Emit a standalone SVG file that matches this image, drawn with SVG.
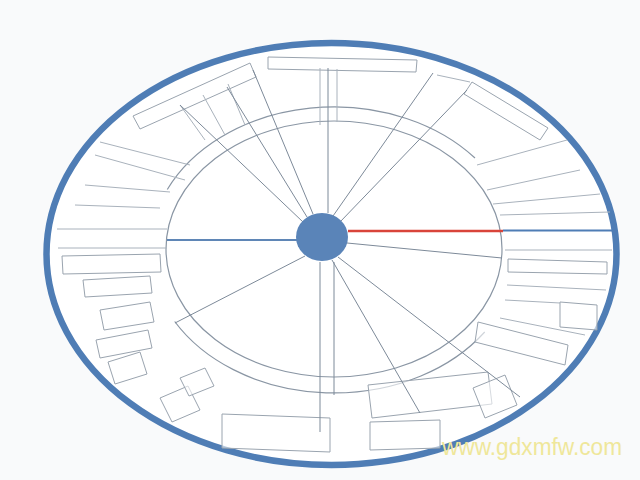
<svg xmlns="http://www.w3.org/2000/svg" width="640" height="480" viewBox="0 0 640 480">
  <defs>
    <style>
      .spoke { stroke: #7d8a99; stroke-width: 1; fill: none; }
      .ring { fill: none; stroke: #8a96a4; stroke-width: 1.2; }
      .box { fill: #ffffff; fill-opacity: 0.6; stroke: #9aa4af; stroke-width: 1; }
      .rule { stroke: #a9b2bc; stroke-width: 1; fill: none; }
      .wm { font-family: "Liberation Sans", Arial, sans-serif; font-size: 23px; fill: #efe79a; }
    </style>
  </defs>
  <rect x="0" y="0" width="640" height="480" fill="#f9fafb"/>

  <g id="outer-ring">
    <ellipse cx="331.5" cy="254" rx="285" ry="211" fill="#ffffff" stroke="#4f7db5" stroke-width="6.5"/>
  </g>

  <g id="inner-ring">
    <ellipse class="ring" cx="334" cy="249" rx="168" ry="128"/>
    <path class="ring" d="M167.3 189.5 A184 143 0 0 1 475 158"/>
    <path class="ring" d="M484.7 332 A184 143 0 0 1 174.7 321.5"/>
  </g>

  <g id="boxes">
    <!-- top -->
    <path class="box" d="M268 57 L417 60 L416 72 L268 69 Z"/>
    <line class="rule" x1="320" y1="68" x2="320" y2="125"/>
    <line class="rule" x1="337" y1="69" x2="337" y2="122"/>
    <!-- upper left -->
    <path class="box" d="M133 116 L250 63 L256 77 L140 129 Z"/>
    <line class="rule" x1="180" y1="105" x2="205" y2="140"/>
    <line class="rule" x1="203" y1="95" x2="225" y2="135"/>
    <line class="rule" x1="228" y1="84" x2="245" y2="125"/>
    <line class="rule" x1="100" y1="142" x2="190" y2="165"/>
    <line class="rule" x1="95" y1="155" x2="185" y2="180"/>
    <line class="rule" x1="85" y1="185" x2="170" y2="192"/>
    <line class="rule" x1="75" y1="205" x2="160" y2="208"/>
    <line class="rule" x1="57" y1="229" x2="167" y2="229"/>
    <line class="rule" x1="58" y1="248" x2="167" y2="248"/>
    <!-- left lower -->
    <path class="box" d="M62 256 L160 254 L161 272 L63 274 Z"/>
    <path class="box" d="M83 280 L150 276 L152 293 L85 297 Z"/>
    <path class="box" d="M100 310 L150 302 L154 322 L104 330 Z"/>
    <path class="box" d="M96 340 L148 330 L152 348 L100 358 Z"/>
    <path class="box" d="M108 362 L140 352 L147 374 L115 384 Z"/>
    <path class="box" d="M160 398 L188 386 L200 410 L172 422 Z"/>
    <path class="box" d="M180 378 L205 368 L214 386 L189 396 Z"/>
    <!-- bottom -->
    <path class="box" d="M222 414 L330 418 L330 452 L222 448 Z"/>
    <path class="box" d="M368 385 L488 372 L492 404 L372 418 Z"/>
    <path class="box" d="M370 422 L440 420 L440 448 L370 450 Z"/>
    <path class="box" d="M473 388 L505 375 L517 405 L485 418 Z"/>
    <!-- lower right -->
    <path class="box" d="M478 322 L568 345 L565 365 L475 342 Z"/>
    <path class="box" d="M560 302 L597 305 L597 330 L560 327 Z"/>
    <path class="box" d="M508 259 L607 262 L607 274 L508 272 Z"/>
    <line class="rule" x1="505" y1="250" x2="612" y2="250"/>
    <line class="rule" x1="507" y1="285" x2="606" y2="290"/>
    <line class="rule" x1="505" y1="300" x2="560" y2="303"/>
    <line class="rule" x1="500" y1="318" x2="585" y2="335"/>
    <!-- upper right -->
    <path class="box" d="M472 82 L548 128 L540 140 L464 94 Z"/>
    <line class="rule" x1="477" y1="165" x2="567" y2="140"/>
    <line class="rule" x1="487" y1="190" x2="580" y2="170"/>
    <line class="rule" x1="493" y1="204" x2="600" y2="194"/>
    <line class="rule" x1="500" y1="215" x2="610" y2="212"/>
    <line class="rule" x1="437" y1="75" x2="470" y2="82"/>
  </g>

  <g id="connectors">
    <line class="spoke" x1="303" y1="222" x2="180" y2="105"/>
    <line class="spoke" x1="307" y1="217" x2="227" y2="87"/>
    <line class="spoke" x1="313" y1="214" x2="253" y2="70"/>
    <line class="spoke" x1="328" y1="213" x2="328" y2="68"/>
    <line class="spoke" x1="333" y1="216" x2="433" y2="73"/>
    <line class="spoke" x1="340" y1="222" x2="467" y2="90"/>
    <line class="spoke" x1="347" y1="243" x2="502" y2="258"/>
    <line class="spoke" x1="338" y1="257" x2="520" y2="397"/>
    <line class="spoke" x1="332" y1="260" x2="420" y2="413"/>
    <line class="spoke" x1="334" y1="262" x2="334" y2="395"/>
    <line class="spoke" x1="320" y1="262" x2="320" y2="432"/>
    <line class="spoke" x1="305" y1="256" x2="175" y2="323"/>
    <line x1="167" y1="240" x2="297" y2="240" stroke="#5f86b6" stroke-width="2"/>
    <line x1="348" y1="231" x2="503" y2="231" stroke="#d9443a" stroke-width="2.5"/>
    <line x1="503" y1="230.5" x2="613" y2="230.5" stroke="#4f7db5" stroke-width="2"/>
  </g>

  <g id="center">
    <ellipse cx="322" cy="237" rx="26" ry="24" fill="#5a84b8"/>
  </g>

  <g id="watermark">
    <text class="wm" x="442" y="455" textLength="180" lengthAdjust="spacingAndGlyphs">www.gdxmfw.com</text>
  </g>
</svg>
